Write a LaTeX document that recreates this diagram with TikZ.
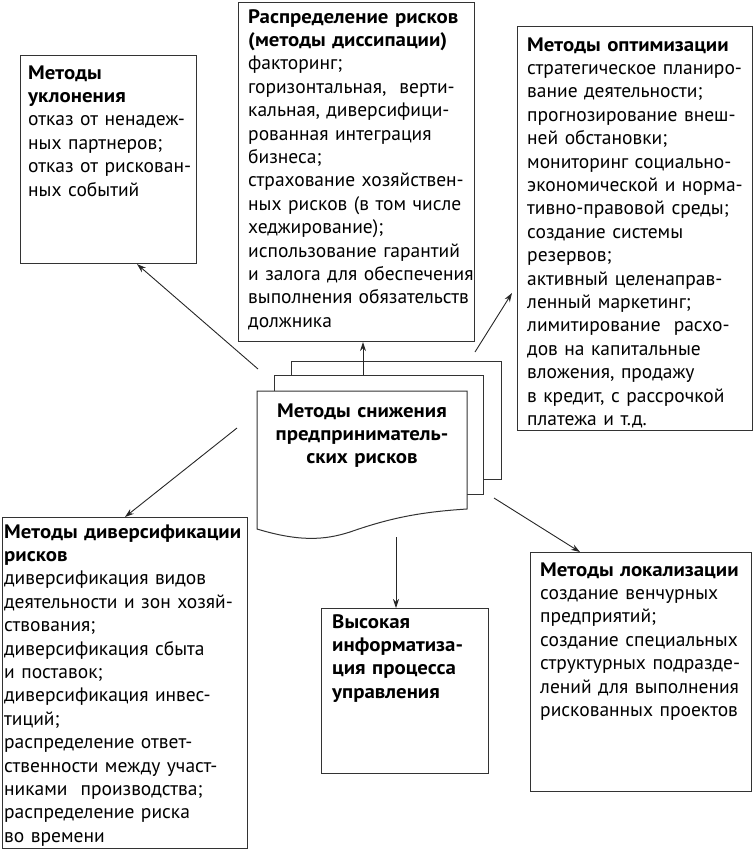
\documentclass[tikz,border=0pt]{standalone}
\usepackage{fontspec}
\setmainfont{PT Sans}[BoldFeatures={FakeStretch=1.07}]
\usetikzlibrary{arrows.meta,positioning,calc}

\begin{document}
\begin{tikzpicture}[
  x=1pt, y=-1pt,
  font=\fontsize{19.5}{23.4}\selectfont,
  box/.style={draw=black!80, line width=1.1pt, inner sep=0pt, anchor=north west},
  txt/.style={anchor=base west, align=left, inner sep=0pt},
  sheet/.style={draw=black!80, line width=1pt, fill=white, inner sep=0pt, anchor=north west},
  arr/.style={-{Stealth[length=9pt, width=6pt]}, line width=0.9pt, draw=black!85}
]
\useasboundingbox (0,0) rectangle (753,855);
\node[box, minimum width=176, minimum height=208] (uklon) at (20,55) {};
\node[box, minimum width=236, minimum height=339] (raspr) at (238,2) {};
\node[box, minimum width=235, minimum height=404] (optim) at (517,26) {};
\node[box, minimum width=245, minimum height=331] (divers) at (2,517) {};
\node[box, minimum width=167, minimum height=165] (inform) at (321,608) {};
\node[box, minimum width=221, minimum height=239] (local) at (530,552) {};
\node[txt, text width=172] (uklonT) at (28,79)
  {\textbf{Методы}\\ \textbf{уклонения}\\ отказ от ненадеж-\\ ных партнеров;\\ отказ от рискован-\\ ных событий};
\node[txt, text width=232] (rasprT) at (248,23)
  {\textbf{Распределение рисков}\\ \textbf{(методы диссипации)}\\ факторинг;\\ горизонтальная,\ \ верти-\\ кальная, диверсифици-\\ рованная интеграция\\ бизнеса;\\ страхование хозяйствен-\\ ных рисков (в том числе\\ хеджирование);\\ использование гарантий\\ и залога для обеспечения\\ выполнения обязательств\\ должника};
\node[txt, text width=230] (optimT) at (527,51)
  {\textbf{Методы оптимизации}\\ стратегическое планиро-\\ вание деятельности;\\ прогнозирование внеш-\\ ней обстановки;\\ мониторинг социально-\\ экономической и норма-\\ тивно-правовой среды;\\ создание системы\\ резервов;\\ активный целенаправ-\\ ленный маркетинг;\\ лимитирование\ \ расхо-\\ дов на капитальные\\ вложения, продажу\\ в кредит, с рассрочкой\\ платежа и т.д.};
\node[txt, text width=250] (diversT) at (4,538)
  {\textbf{Методы диверсификации}\\ \textbf{рисков}\\ диверсификация видов\\ деятельности и зон хозяй-\\ ствования;\\ диверсификация сбыта\\ и поставок;\\ диверсификация инвес-\\ тиций;\\ распределение ответ-\\ ственности между участ-\\ никами\ \ производства;\\ распределение риска\\ во времени};
\node[txt, text width=160] (informT) at (332,628)
  {\textbf{Высокая}\\ \textbf{информатиза-}\\ \textbf{ция процесса}\\ \textbf{управления}};
\node[txt, text width=215] (localT) at (540,576)
  {\textbf{Методы локализации}\\ создание венчурных\\ предприятий;\\ создание специальных\\ структурных подразде-\\ лений для выполнения\\ рискованных проектов};
\node[sheet, minimum width=210, minimum height=118] (sheetC) at (291,361) {};
\node[sheet, minimum width=209, minimum height=119] (sheetB) at (274,375) {};
\draw[draw=black!80, line width=1pt, fill=white] (257,391) -- (467,391) -- (467,509)
  .. controls (420,512) and (390,518) .. (350,532)
  .. controls (325,540) and (300,542) .. (257,529) -- cycle;
\node[anchor=base, align=center, text width=220, inner sep=0pt] (center) at (362,417)
  {\textbf{Методы снижения}\\ \textbf{предприниматель-}\\ \textbf{ских рисков}};
\coordinate (s1) at (258,369);
\coordinate (s3) at (475,352);
\coordinate (s4) at (237,428);
\coordinate (s5) at (396,537);
\coordinate (s6) at (494,498);
\draw[arr] (s1) -- ($(uklon.south west)+(117,0)$);
\draw[arr] ($(sheetB.north west)+(89,0)$) -- ($(raspr.south west)+(125,0)$);
\draw[arr] (s3) -- ($(optim.north west)+(-5,267)$);
\draw[arr] (s4) -- ($(divers.north west)+(123,0)$);
\draw[arr] (s5) -- ($(inform.north west)+(75,0)$);
\draw[arr] (s6) -- ($(local.north west)+(50,0)$);
\end{tikzpicture}
\end{document}
